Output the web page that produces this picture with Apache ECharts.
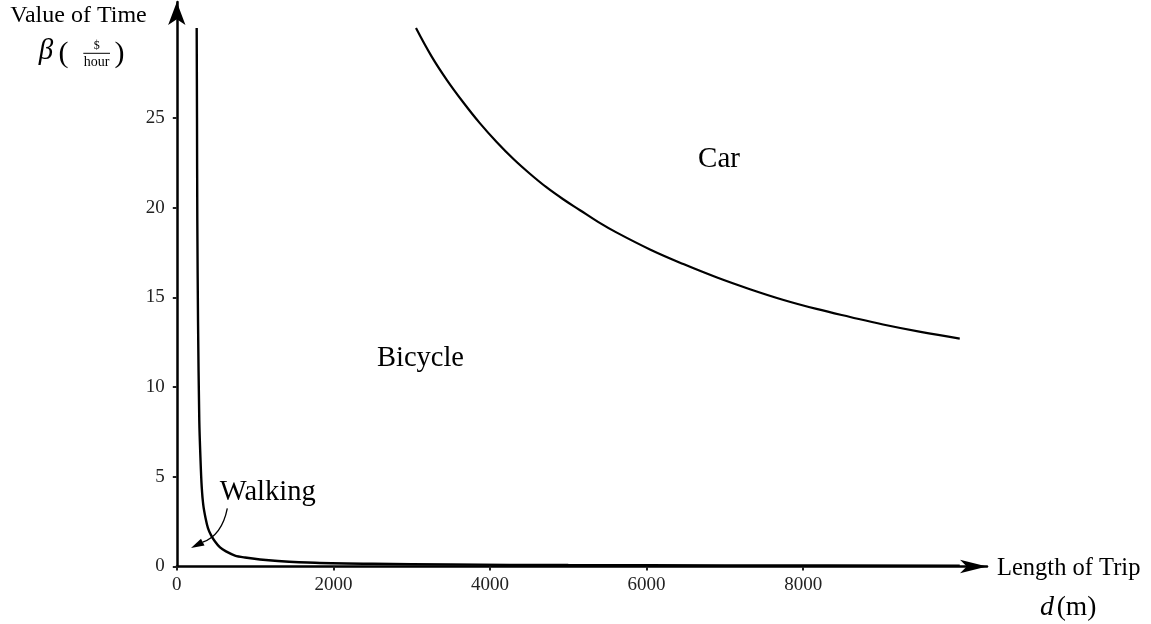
<!DOCTYPE html>
<html>
<head>
<meta charset="utf-8">
<script src="https://cdn.jsdelivr.net/npm/echarts@6/dist/echarts.min.js"></script>
<style>
html,body{margin:0;padding:0;background:#fff;}
#chart{width:1151px;height:624px;}
</style>
</head>
<body>
<div id="chart"></div>
<script>
// ---- data ----
const xTickValues = [0, 2000, 4000, 6000, 8000];
const yTickValues = [0, 5, 10, 15, 20, 25];

const walkingX = [254, 258, 262, 271, 287, 303, 318, 338, 367, 398, 437, 488, 552, 628, 743, 871, 1063, 1292, 1765, 2500, 3500, 5000, 7000, 10000];
const walkingY = [30, 25, 19.3, 13.7, 8.16, 5.93, 4.45, 3.43, 2.70, 2.14, 1.75, 1.39, 1.06, 0.84, 0.61, 0.50, 0.39, 0.31, 0.21, 0.15, 0.11, 0.08, 0.06, 0.045];

const carX = [3055, 3250, 3450, 3660, 3870, 4085, 4300, 4510, 4720, 4935, 5150, 5380, 5620, 6050, 6470, 6900, 7320, 7750, 8170, 8600, 9020, 9500, 10000];
const carY = [30.0, 28.45, 27.1, 25.85, 24.7, 23.65, 22.7, 21.88, 21.13, 20.46, 19.85, 19.2, 18.6, 17.65, 16.85, 16.1, 15.45, 14.85, 14.35, 13.9, 13.48, 13.07, 12.7];

const regionLabels = ['Car', 'Bicycle', 'Walking'];

const FONT = '"Liberation Serif", "DejaVu Serif", serif';

function pairs(xs, ys) { return xs.map((x, i) => [x, ys[i]]); }

const chart = echarts.init(document.getElementById('chart'), null, {renderer: 'canvas'});

const option = {
  animation: false,
  backgroundColor: '#ffffff',
  grid: {left: 176.8, right: 164, top: 2, bottom: 57.5, containLabel: false, outerBoundsMode: 'none'},
  xAxis: {
    type: 'value', min: 0, max: 10348,
    axisLine: {show: true, symbol: ['none', 'arrow'], symbolSize: [10, 27], lineStyle: {color: '#000', width: 2.5}},
    axisTick: {show: true, length: 4, lineStyle: {color: '#222', width: 2}, customValues: xTickValues},
    axisLabel: {show: true, margin: 9, fontFamily: FONT, fontSize: 19, color: '#222', customValues: xTickValues, formatter: v => String(v)},
    splitLine: {show: false}
  },
  yAxis: {
    type: 'value', min: 0, max: 31.45,
    axisLine: {show: true, symbol: ['none', 'arrow'], symbolSize: [13, 23], lineStyle: {color: '#000', width: 2.5}},
    axisTick: {show: true, length: 4, lineStyle: {color: '#222', width: 2}, customValues: yTickValues},
    axisLabel: {show: true, margin: 12, fontFamily: FONT, fontSize: 19, color: '#222', customValues: yTickValues, formatter: v => String(v)},
    splitLine: {show: false}
  },
  series: [
    {
      name: 'Walking / Bicycle', type: 'line', data: pairs(walkingX, walkingY),
      showSymbol: false, smooth: 0.3,
      lineStyle: {color: '#000', width: 2.4}, clip: true
    },
    {
      name: 'Bicycle / Car', type: 'line', data: pairs(carX, carY),
      showSymbol: false, smooth: 0.4,
      lineStyle: {color: '#000', width: 2.2}, clip: true
    }
  ],
  graphic: [
    // axis titles
    {type: 'text', x: 78.5, y: 15.5, style: {text: 'Value of Time', font: '24px ' + FONT, fill: '#000', align: 'center', verticalAlign: 'middle'}},
    {type: 'text', x: 46, y: 51, style: {text: 'β', font: 'italic 29px ' + FONT, fill: '#000', align: 'center', verticalAlign: 'middle'}},
    {type: 'text', x: 63.5, y: 54, style: {text: '(', font: '30px ' + FONT, fill: '#000', align: 'center', verticalAlign: 'middle'}},
    {type: 'text', x: 119.5, y: 54, style: {text: ')', font: '30px ' + FONT, fill: '#000', align: 'center', verticalAlign: 'middle'}},
    {type: 'text', x: 96.8, y: 45.5, style: {text: '$', font: '12px ' + FONT, fill: '#000', align: 'center', verticalAlign: 'middle'}},
    {type: 'line', shape: {x1: 83.3, y1: 53.3, x2: 110, y2: 53.3}, style: {stroke: '#000', lineWidth: 1}},
    {type: 'text', x: 96.7, y: 62, style: {text: 'hour', font: '14px ' + FONT, fill: '#000', align: 'center', verticalAlign: 'middle'}},
    {type: 'text', x: 1068.7, y: 569, style: {text: 'Length of Trip', font: '24.5px ' + FONT, fill: '#000', align: 'center', verticalAlign: 'middle'}},
    {type: 'text', x: 1040, y: 608, style: {text: 'd', font: 'italic 28px ' + FONT, fill: '#000', align: 'left', verticalAlign: 'middle'}},
    {type: 'text', x: 1056.7, y: 608, style: {text: '(m)', font: '27.5px ' + FONT, fill: '#000', align: 'left', verticalAlign: 'middle'}},
    // region labels
    {type: 'text', x: 719, y: 159, style: {text: regionLabels[0], font: '29px ' + FONT, fill: '#000', align: 'center', verticalAlign: 'middle'}},
    {type: 'text', x: 420.5, y: 359, style: {text: regionLabels[1], font: '28.5px ' + FONT, fill: '#000', align: 'center', verticalAlign: 'middle'}},
    {type: 'text', x: 267.7, y: 493, style: {text: regionLabels[2], font: '28.5px ' + FONT, fill: '#000', align: 'center', verticalAlign: 'middle'}},
    // walking pointer arrow
    {type: 'bezierCurve', shape: {x1: 227.3, y1: 508.3, cpx1: 222, cpy1: 535, x2: 202.7, y2: 542.2}, style: {stroke: '#000', lineWidth: 1.3, fill: null}},
    {type: 'polygon', shape: {points: [[191, 548], [204.5, 545.5], [201, 538.8]]}, style: {fill: '#000'}}
  ]
};
chart.setOption(option);
</script>
</body>
</html>
